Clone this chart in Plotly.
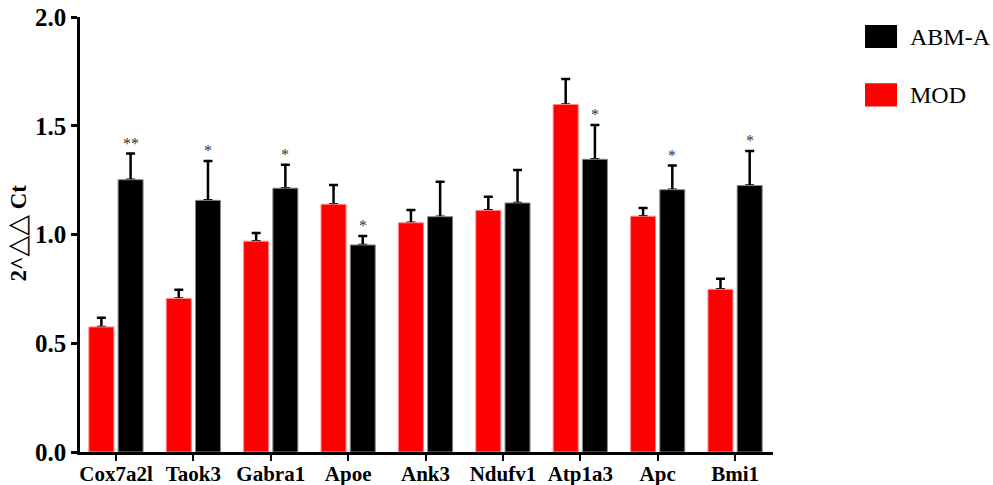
import plotly.graph_objects as go

genes = ["Cox7a2l", "Taok3", "Gabra1", "Apoe", "Ank3", "Ndufv1", "Atp1a3", "Apc", "Bmi1"]
mod_values = [0.575, 0.706, 0.969, 1.139, 1.054, 1.111, 1.598, 1.084, 0.748]
mod_err = [0.042, 0.040, 0.038, 0.089, 0.059, 0.063, 0.117, 0.038, 0.049]
abm_values = [1.252, 1.157, 1.213, 0.952, 1.082, 1.145, 1.346, 1.206, 1.225]
abm_err = [0.120, 0.181, 0.108, 0.041, 0.160, 0.151, 0.158, 0.111, 0.159]
abm_sig = ["**", "*", "*", "*", "", "", "*", "*", "*"]

FONT = "Liberation Serif"

fig = go.Figure()

# error bar carriers (drawn beneath the coloured bars)
for vals, errs, grp in [(mod_values, mod_err, "mod"), (abm_values, abm_err, "abm")]:
    fig.add_trace(go.Bar(
        x=genes, y=vals, offsetgroup=grp, showlegend=False, hoverinfo="skip",
        marker=dict(color="rgba(0,0,0,0)", line=dict(width=0)),
        error_y=dict(type="data", array=errs, arrayminus=[0] * len(errs), symmetric=False,
                     color="black", thickness=2.5, width=4.5),
    ))

fig.add_trace(go.Bar(
    x=genes, y=mod_values, name="MOD", offsetgroup="mod", showlegend=False,
    marker=dict(color="#ff0000", line=dict(color="#ff8a8a", width=1)),
))
fig.add_trace(go.Bar(
    x=genes, y=abm_values, name="ABM-A", offsetgroup="abm", showlegend=False,
    marker=dict(color="#000000", line=dict(color="#8a8a8a", width=1)),
))

# significance marks
for g, v, e, s in zip(genes, abm_values, abm_err, abm_sig):
    if s:
        fig.add_annotation(x=g, y=v + e, xref="x", yref="y", text=s, showarrow=False,
                           xshift=14.6, yshift=0, yanchor="bottom",
                           font=dict(family=FONT, size=16, color="#333333"))

# custom legend
legend_items = [("ABM-A", "#000000", 0.955), ("MOD", "#ff0000", 0.821)]
for label, col, yy in legend_items:
    fig.add_shape(type="rect", xref="paper", yref="paper",
                  x0=1.1328, x1=1.179, y0=yy - 0.0265, y1=yy + 0.0265,
                  fillcolor=col, line=dict(width=0))
    fig.add_annotation(xref="paper", yref="paper", x=1.1948, y=yy, text=label,
                       showarrow=False, xanchor="left", yanchor="middle",
                       font=dict(family=FONT, size=24, color="black"))

# y-axis title
fig.add_annotation(xref="paper", yref="paper", x=-0.092, y=0.503,
                   text="<b>2^</b><span style=\"font-family:DejaVu Sans;font-weight:normal;font-size:27px\">△△</span><b> Ct</b>",
                   showarrow=False, textangle=-90, xanchor="center", yanchor="middle",
                   font=dict(family=FONT, size=23, color="black"))

fig.update_layout(
    width=993, height=485, autosize=False,
    margin=dict(l=80, r=220, t=17, b=33, autoexpand=False),
    barmode="group", bargap=0.245, bargroupgap=0.144,
    plot_bgcolor="white", paper_bgcolor="white",
    font=dict(family=FONT),
    xaxis=dict(type="category", range=[-0.465, 8.49], showgrid=False, automargin=False,
               showline=True, linecolor="black", linewidth=2.5,
               ticks="outside", ticklen=6, tickwidth=2, tickcolor="black",
               ticklabeloverflow="allow", ticklabelstandoff=-5,
               tickfont=dict(family=FONT, size=21, color="black", weight="bold")),
    yaxis=dict(range=[0, 2], dtick=0.5, tickformat=".1f", showgrid=False, zeroline=False,
               automargin=False, ticklabeloverflow="allow",
               showline=True, linecolor="black", linewidth=2.5,
               ticks="outside", ticklen=6, tickwidth=2.5, tickcolor="black",
               tickfont=dict(family=FONT, size=25, color="black", weight="bold")),
    showlegend=False,
)

fig.write_html("out.html", config={"displayModeBar": False},
               post_script="document.body.style.margin='0px';")
